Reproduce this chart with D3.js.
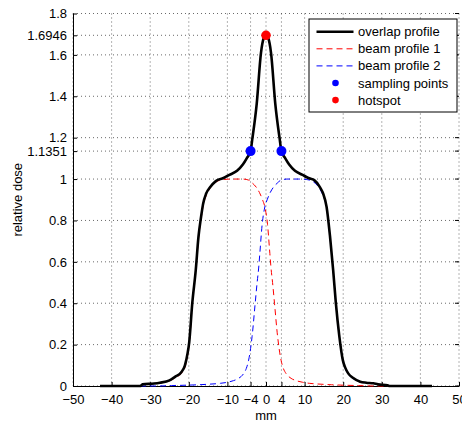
<!DOCTYPE html>
<html>
<head>
<meta charset="utf-8">
<script src="https://cdn.jsdelivr.net/npm/d3@7.9.0/dist/d3.min.js"></script>
<style>
  body { margin: 0; background: #fff; }
  svg { font-family: "Liberation Sans", Arial, Helvetica, sans-serif; }
</style>
</head>
<body>
<svg></svg>
<script>
const width = 462;
const height = 425;

// overlap profile (mm, relative dose)
const overlapX = [-43, -32.5, -32, -29, -27.5, -25, -23.5, -22, -21, -20.3, -19.9, -19.1, -18.2, -17.5, -16.8, -16.3, -15.5, -14.5, -13, -11, -9.5, -7.5, -6, -5, -4, -3.5, -2.4, -1.3, -0.6, 0, 0.6, 1.3, 2.4, 3.5, 4, 5, 6, 7.5, 9.5, 11, 12.5, 14, 14.8, 15.7, 16.6, 17.4, 18.1, 19.0, 19.9, 20.5, 21.3, 22.5, 24.4, 26, 27.8, 29, 31.5, 32, 43];
const overlapY = [0, 0, 0.008, 0.012, 0.016, 0.027, 0.045, 0.065, 0.10, 0.16, 0.21, 0.40, 0.56, 0.72, 0.82, 0.88, 0.93, 0.96, 0.99, 1.005, 1.02, 1.04, 1.07, 1.10, 1.1351, 1.20, 1.365, 1.61, 1.68, 1.6946, 1.68, 1.61, 1.365, 1.20, 1.1351, 1.10, 1.07, 1.04, 1.02, 1.005, 0.995, 0.96, 0.93, 0.865, 0.72, 0.56, 0.40, 0.24, 0.125, 0.09, 0.061, 0.04, 0.021, 0.016, 0.013, 0.008, 0.004, 0, 0];

// beam profile 1 (red)
const beam1X = [-43, -32.5, -32, -29, -27.5, -25, -23.5, -22, -21, -20.3, -19.9, -19.1, -18.2, -17.5, -16.8, -16.3, -15.5, -14.5, -13, -11, -9, -6, -4.5, -3.5, -2.5, -1.7, -0.9, -0.3, 0.4, 1.0, 1.3, 1.7, 2.2, 3.0, 3.9, 4.5, 5.2, 6.5, 7.8, 9.5, 11.2, 14, 17, 20, 24, 28, 43];
const beam1Y = [0, 0, 0.008, 0.012, 0.016, 0.025, 0.04, 0.06, 0.09, 0.15, 0.20, 0.39, 0.55, 0.71, 0.81, 0.87, 0.92, 0.955, 0.985, 0.998, 1.0, 1.0, 0.995, 0.98, 0.96, 0.935, 0.90, 0.865, 0.78, 0.64, 0.57, 0.50, 0.40, 0.24, 0.125, 0.085, 0.06, 0.037, 0.026, 0.018, 0.013, 0.009, 0.006, 0.004, 0.002, 0, 0];

// beam profile 2 (blue)
const beam2X = [-43, -28, -24.5, -20.5, -17.5, -14.5, -11.8, -10, -8.4, -7.1, -5.8, -5.1, -4.5, -3.6, -2.8, -2.3, -1.9, -1.6, -1.0, -0.3, 0.3, 1.1, 1.9, 2.9, 3.9, 5.4, 8.4, 10.4, 12.4, 14.0, 14.8, 15.7, 16.6, 17.4, 18.1, 19.0, 19.9, 20.5, 21.3, 22.5, 24.4, 26, 27.8, 29, 31.5, 32, 43];
const beam2Y = [0, 0, 0.002, 0.004, 0.006, 0.009, 0.013, 0.018, 0.026, 0.037, 0.06, 0.085, 0.125, 0.24, 0.40, 0.50, 0.57, 0.64, 0.78, 0.865, 0.90, 0.935, 0.96, 0.98, 0.995, 1.0, 1.0, 0.998, 0.985, 0.95, 0.92, 0.86, 0.715, 0.555, 0.395, 0.236, 0.121, 0.086, 0.057, 0.037, 0.019, 0.014, 0.012, 0.008, 0.004, 0, 0];

const samplingX = [-4, 4];
const samplingY = [1.1351, 1.1351];
const hotspotX = [0];
const hotspotY = [1.6946];

const xTicks = [-50, -40, -30, -20, -10, -4, 0, 4, 10, 20, 30, 40, 50];
const yTicks = [0, 0.2, 0.4, 0.6, 0.8, 1, 1.1351, 1.2, 1.4, 1.6, 1.6946, 1.8];

const legendLabels = ["overlap profile", "beam profile 1", "beam profile 2", "sampling points", "hotspot"];

const plotLeft = 73, plotRight = 459, plotTop = 13.5, plotBottom = 386;
const fontSize = "13px";

const svg = d3.select("svg")
    .attr("width", width)
    .attr("height", height);

const x = d3.scaleLinear().domain([-50, 50]).range([plotLeft, plotRight]);
const y = d3.scaleLinear().domain([0, 1.8]).range([plotBottom, plotTop]);

const fmtY = d => String(d);
const fmtX = d => d < 0 ? "\u2212" + Math.abs(d) : String(d);

// dotted grid
svg.append("g").selectAll("line")
    .data(xTicks)
    .enter().append("line")
    .attr("x1", d => x(d)).attr("x2", d => x(d))
    .attr("y1", plotTop).attr("y2", plotBottom)
    .attr("stroke", "#444").attr("stroke-width", 0.8)
    .attr("stroke-dasharray", "1,3");

svg.append("g").selectAll("line")
    .data(yTicks)
    .enter().append("line")
    .attr("x1", plotLeft).attr("x2", plotRight)
    .attr("y1", d => y(d)).attr("y2", d => y(d))
    .attr("stroke", "#444").attr("stroke-width", 0.8)
    .attr("stroke-dasharray", "1,3");

// axes: inward ticks
const xAxis = svg.append("g")
    .attr("transform", `translate(0,${plotBottom})`)
    .call(d3.axisBottom(x).tickValues(xTicks).tickSizeInner(-4).tickSizeOuter(0).tickPadding(9).tickFormat(fmtX));
const yAxis = svg.append("g")
    .attr("transform", `translate(${plotLeft},0)`)
    .call(d3.axisLeft(y).tickValues(yTicks).tickSizeInner(-4).tickSizeOuter(0).tickPadding(6).tickFormat(fmtY));

[xAxis, yAxis].forEach(a => {
    a.select(".domain").attr("stroke", "#000").attr("stroke-width", 1);
    a.selectAll(".tick line").attr("stroke", "#000");
    a.selectAll("text")
        .attr("fill", "#000")
        .style("font-size", fontSize)
        .style("font-family", "'Liberation Sans', Arial, sans-serif");
});

// right side ticks
svg.append("g").selectAll("line")
    .data(yTicks)
    .enter().append("line")
    .attr("x1", plotRight - 4).attr("x2", plotRight)
    .attr("y1", d => y(d)).attr("y2", d => y(d))
    .attr("stroke", "#000");

// curves
const line = d3.line()
    .x(d => x(d[0]))
    .y(d => y(d[1]))
    .curve(d3.curveMonotoneX);

const beam1 = beam1X.map((v, i) => [v, beam1Y[i]]);
const beam2 = beam2X.map((v, i) => [v, beam2Y[i]]);
const overlap = overlapX.map((v, i) => [v, overlapY[i]]);

svg.append("path")
    .attr("d", line(beam1))
    .attr("fill", "none")
    .attr("stroke", "#ff0000")
    .attr("stroke-width", 1)
    .attr("stroke-dasharray", "6,4");

svg.append("path")
    .attr("d", line(beam2))
    .attr("fill", "none")
    .attr("stroke", "#0000ff")
    .attr("stroke-width", 1)
    .attr("stroke-dasharray", "6,4");

svg.append("path")
    .attr("d", line(overlap))
    .attr("fill", "none")
    .attr("stroke", "#000")
    .attr("stroke-width", 2.6)
    .attr("stroke-linejoin", "round");

svg.selectAll(".sampling")
    .data(samplingX)
    .enter().append("circle")
    .attr("class", "sampling")
    .attr("cx", d => x(d))
    .attr("cy", (d, i) => y(samplingY[i]))
    .attr("r", 5)
    .attr("fill", "#0000ff");

svg.selectAll(".hotspot")
    .data(hotspotX)
    .enter().append("circle")
    .attr("class", "hotspot")
    .attr("cx", d => x(d))
    .attr("cy", (d, i) => y(hotspotY[i]))
    .attr("r", 4.8)
    .attr("fill", "#ff0000");

// axis labels
svg.append("text")
    .attr("x", x(0))
    .attr("y", 420)
    .attr("text-anchor", "middle")
    .style("font-size", fontSize)
    .text("mm");

svg.append("text")
    .attr("transform", `translate(22,${(plotTop + plotBottom) / 2}) rotate(-90)`)
    .attr("text-anchor", "middle")
    .style("font-size", fontSize)
    .text("relative dose");

// legend
const lg = svg.append("g");
lg.append("rect")
    .attr("x", 309).attr("y", 19)
    .attr("width", 148).attr("height", 93)
    .attr("fill", "#fff")
    .attr("stroke", "#000")
    .attr("stroke-width", 1);

const rowY = i => 31.7 + i * 17.1;
const styles = [
    { type: "line", color: "#000", w: 2.6, dash: null },
    { type: "line", color: "#ff0000", w: 1, dash: "6,4" },
    { type: "line", color: "#0000ff", w: 1, dash: "6,4" },
    { type: "dot", color: "#0000ff" },
    { type: "dot", color: "#ff0000" }
];

legendLabels.forEach((label, i) => {
    const s = styles[i];
    if (s.type === "line") {
        lg.append("line")
            .attr("x1", 316.5).attr("x2", 353.5)
            .attr("y1", rowY(i)).attr("y2", rowY(i))
            .attr("stroke", s.color)
            .attr("stroke-width", s.w)
            .attr("stroke-dasharray", s.dash);
    } else {
        lg.append("circle")
            .attr("cx", 335.5).attr("cy", rowY(i))
            .attr("r", 3.3)
            .attr("fill", s.color);
    }
    lg.append("text")
        .attr("x", 358)
        .attr("y", rowY(i) + 4.5)
        .style("font-size", fontSize)
        .text(label);
});
</script>
</body>
</html>
